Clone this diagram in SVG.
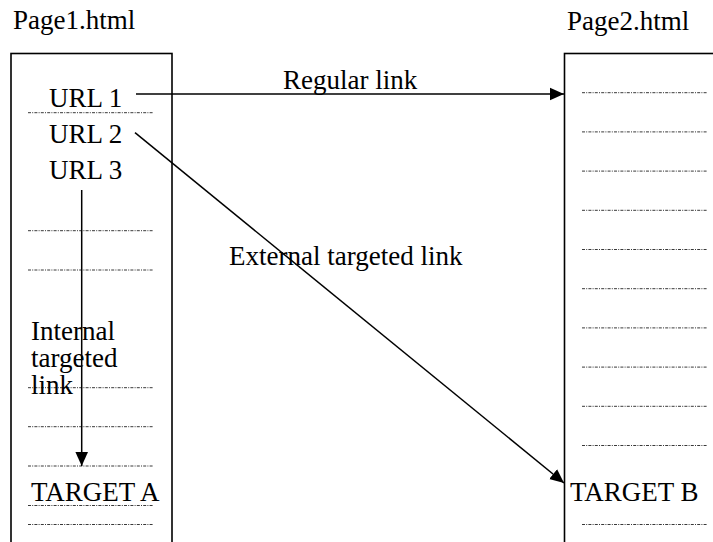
<svg xmlns="http://www.w3.org/2000/svg" width="713" height="542" viewBox="0 0 713 542">
<style>
.t{font-family:"Liberation Serif","Times New Roman",serif;font-size:27px;fill:#000}
.box{fill:#fff;stroke:#000;stroke-width:1.6}
.dot{stroke:#222;stroke-width:0.9;stroke-dasharray:3 1.2 1 1.2;fill:none}
.arr{stroke:#000;stroke-width:1.5;fill:none;marker-end:url(#ah)}
</style>
<defs>
<marker id="ah" viewBox="0 0 10 10" refX="10" refY="5" markerWidth="14" markerHeight="14" markerUnits="userSpaceOnUse" orient="auto">
<path d="M0,0.5 L10,5 L0,9.5 Z" fill="#000"/>
</marker>
</defs>
<rect width="713" height="542" fill="#fff"/>
<g id="page1">
<text class="t" x="13" y="29">Page1.html</text>
<rect class="box" x="11" y="53.5" width="161" height="520"/>
<text class="t" x="49" y="107">URL 1</text>
<text class="t" x="49" y="143">URL 2</text>
<text class="t" x="49" y="179">URL 3</text>
<line class="dot" x1="28" y1="112.7" x2="153" y2="112.7"/>
<line class="dot" x1="28" y1="230.7" x2="153" y2="230.7"/>
<line class="dot" x1="28" y1="270" x2="153" y2="270"/>
<line class="dot" x1="28" y1="387.7" x2="153" y2="387.7"/>
<line class="dot" x1="28" y1="426.7" x2="153" y2="426.7"/>
<line class="dot" x1="28" y1="466" x2="153" y2="466"/>
<line class="dot" x1="28" y1="505.5" x2="153" y2="505.5"/>
<line class="dot" x1="28" y1="524.5" x2="153" y2="524.5"/>
<text class="t" x="31" y="501">TARGET A</text>
</g>
<g id="page2">
<text class="t" x="567" y="30">Page2.html</text>
<rect class="box" x="564.5" y="53.5" width="200" height="520"/>
<line class="dot" x1="582" y1="92.7" x2="707" y2="92.7"/>
<line class="dot" x1="582" y1="131.9" x2="707" y2="131.9"/>
<line class="dot" x1="582" y1="171.1" x2="707" y2="171.1"/>
<line class="dot" x1="582" y1="210.3" x2="707" y2="210.3"/>
<line class="dot" x1="582" y1="249.5" x2="707" y2="249.5"/>
<line class="dot" x1="582" y1="288.7" x2="707" y2="288.7"/>
<line class="dot" x1="582" y1="327.9" x2="707" y2="327.9"/>
<line class="dot" x1="582" y1="367.1" x2="707" y2="367.1"/>
<line class="dot" x1="582" y1="406.3" x2="707" y2="406.3"/>
<line class="dot" x1="582" y1="445.5" x2="707" y2="445.5"/>
<line class="dot" x1="582" y1="524.5" x2="707" y2="524.5"/>
<text class="t" x="570" y="501">TARGET B</text>
</g>
<g id="connectors">
<line class="arr" x1="136" y1="94" x2="564" y2="94"/>
<text class="t" x="283" y="89">Regular link</text>
<line class="arr" x1="135" y1="132.7" x2="564" y2="483"/>
<text class="t" x="229" y="265">External targeted link</text>
<line class="arr" x1="81.7" y1="190" x2="81.7" y2="466"/>
<text class="t" x="31" y="340">Internal</text>
<text class="t" x="31" y="367">targeted</text>
<text class="t" x="31" y="394">link</text>
</g>
</svg>
